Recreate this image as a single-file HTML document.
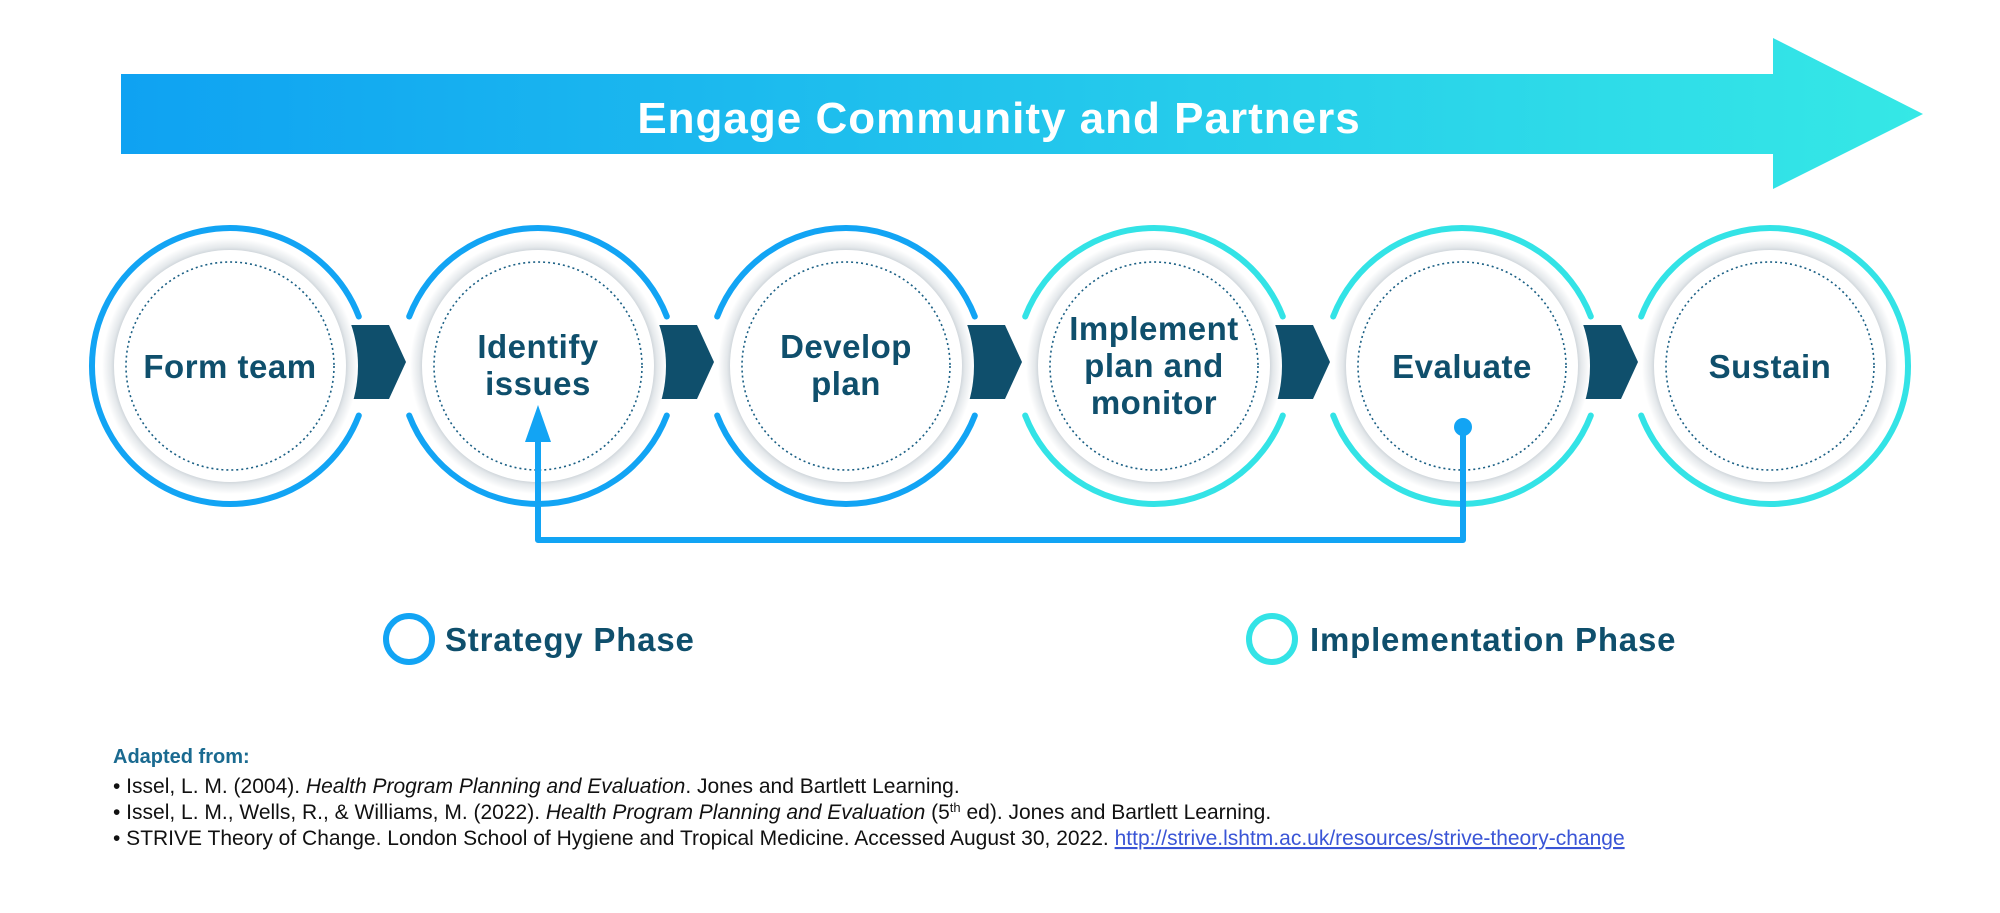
<!DOCTYPE html>
<html><head><meta charset="utf-8"><style>
html,body{margin:0;padding:0;background:#fff;}
svg{display:block;}
.ref{font-family:"Liberation Sans",sans-serif;font-size:21px;fill:#111;}
</style></head><body>
<svg width="2000" height="913" viewBox="0 0 2000 913" xmlns="http://www.w3.org/2000/svg">
<defs>
<linearGradient id="ag" x1="121" y1="0" x2="1923" y2="0" gradientUnits="userSpaceOnUse">
<stop offset="0" stop-color="#0fa2f2"/><stop offset="1" stop-color="#35e8e6"/>
</linearGradient>
<radialGradient id="sh">
<stop offset="0.86" stop-color="#aeb8c0"/><stop offset="0.93" stop-color="#e4e8eb"/><stop offset="1" stop-color="#ffffff"/>
</radialGradient>
</defs>
<polygon points="121,74 1773,74 1773,38 1923,114 1773,189 1773,154 121,154" fill="url(#ag)"/>
<text x="999" y="133" text-anchor="middle" font-family="Liberation Sans, sans-serif" font-weight="bold" font-size="44" letter-spacing="1" fill="#fff">Engage Community and Partners</text>

<g fill="#0f4f6c">
<polygon points="346,325 389,325 406,362 389,399 346,399"/>
<polygon points="654,325 697,325 714,362 697,399 654,399"/>
<polygon points="962,325 1005,325 1022,362 1005,399 962,399"/>
<polygon points="1270,325 1313,325 1330,362 1313,399 1270,399"/>
<polygon points="1578,325 1621,325 1638,362 1621,399 1578,399"/>
</g>

<g>
<circle cx="230" cy="366" r="128" fill="url(#sh)"/><circle cx="230" cy="366" r="116" fill="#fff"/>
<circle cx="538" cy="366" r="128" fill="url(#sh)"/><circle cx="538" cy="366" r="116" fill="#fff"/>
<circle cx="846" cy="366" r="128" fill="url(#sh)"/><circle cx="846" cy="366" r="116" fill="#fff"/>
<circle cx="1154" cy="366" r="128" fill="url(#sh)"/><circle cx="1154" cy="366" r="116" fill="#fff"/>
<circle cx="1462" cy="366" r="128" fill="url(#sh)"/><circle cx="1462" cy="366" r="116" fill="#fff"/>
<circle cx="1770" cy="366" r="128" fill="url(#sh)"/><circle cx="1770" cy="366" r="116" fill="#fff"/>
</g>
<g fill="none" stroke="#1a5f84" stroke-width="1.6" stroke-dasharray="2 3">
<circle cx="230" cy="366" r="104"/><circle cx="538" cy="366" r="104"/><circle cx="846" cy="366" r="104"/>
<circle cx="1154" cy="366" r="104"/><circle cx="1462" cy="366" r="104"/><circle cx="1770" cy="366" r="104"/>
</g>
<g fill="none" stroke-width="6" stroke-linecap="round">
<path d="M358.8,415.5 A138,138 0 1 1 358.8,316.5" stroke="#12a4f4"/>
<path d="M409.2,316.5 A138,138 0 0 1 666.8,316.5 M666.8,415.5 A138,138 0 0 1 409.2,415.5" stroke="#12a4f4"/>
<path d="M717.2,316.5 A138,138 0 0 1 974.8,316.5 M974.8,415.5 A138,138 0 0 1 717.2,415.5" stroke="#12a4f4"/>
<path d="M1025.2,316.5 A138,138 0 0 1 1282.8,316.5 M1282.8,415.5 A138,138 0 0 1 1025.2,415.5" stroke="#33e3e6"/>
<path d="M1333.2,316.5 A138,138 0 0 1 1590.8,316.5 M1590.8,415.5 A138,138 0 0 1 1333.2,415.5" stroke="#33e3e6"/>
<path d="M1641.2,316.5 A138,138 0 1 1 1641.2,415.5" stroke="#33e3e6"/>
</g>

<g font-family="Liberation Sans, sans-serif" font-weight="bold" font-size="33" letter-spacing="0.5" fill="#0f4f6c" text-anchor="middle">
<text x="230" y="378">Form team</text>
<text x="538" y="358">Identify</text><text x="538" y="395">issues</text>
<text x="846" y="358">Develop</text><text x="846" y="395">plan</text>
<text x="1154" y="340">Implement</text><text x="1154" y="377">plan and</text><text x="1154" y="414">monitor</text>
<text x="1462" y="378">Evaluate</text>
<text x="1770" y="378">Sustain</text>
</g>

<circle cx="1463" cy="427" r="9" fill="#12a4f4"/>
<path d="M1463,427 L1463,540 L538,540 L538,440" fill="none" stroke="#12a4f4" stroke-width="6" stroke-linejoin="round"/>
<polygon points="538,405 551,442 525,442" fill="#12a4f4"/>

<circle cx="409" cy="639" r="23" fill="none" stroke="#12a4f4" stroke-width="6"/>
<circle cx="1272" cy="639" r="23" fill="none" stroke="#33e3e6" stroke-width="6"/>
<g font-family="Liberation Sans, sans-serif" font-weight="bold" font-size="33" letter-spacing="0.8" fill="#0f4f6c">
<text x="445" y="651">Strategy Phase</text>
<text x="1310" y="651">Implementation Phase</text>
</g>

<text x="113" y="763" font-family="Liberation Sans, sans-serif" font-weight="bold" font-size="20" fill="#1a6a90">Adapted from:</text>
<text class="ref" x="113" y="793">• Issel, L. M. (2004). <tspan font-style="italic">Health Program Planning and Evaluation</tspan>. Jones and Bartlett Learning.</text>
<text class="ref" x="113" y="819">• Issel, L. M., Wells, R., &amp; Williams, M. (2022). <tspan font-style="italic">Health Program Planning and Evaluation</tspan> (5<tspan font-size="13" dy="-7">th</tspan><tspan dy="7"> ed). Jones and Bartlett Learning.</tspan></text>
<text class="ref" x="113" y="845">• STRIVE Theory of Change. London School of Hygiene and Tropical Medicine. Accessed August 30, 2022. <tspan fill="#3a55d6" text-decoration="underline">http://strive.lshtm.ac.uk/resources/strive-theory-change</tspan></text>
</svg>
</body></html>
